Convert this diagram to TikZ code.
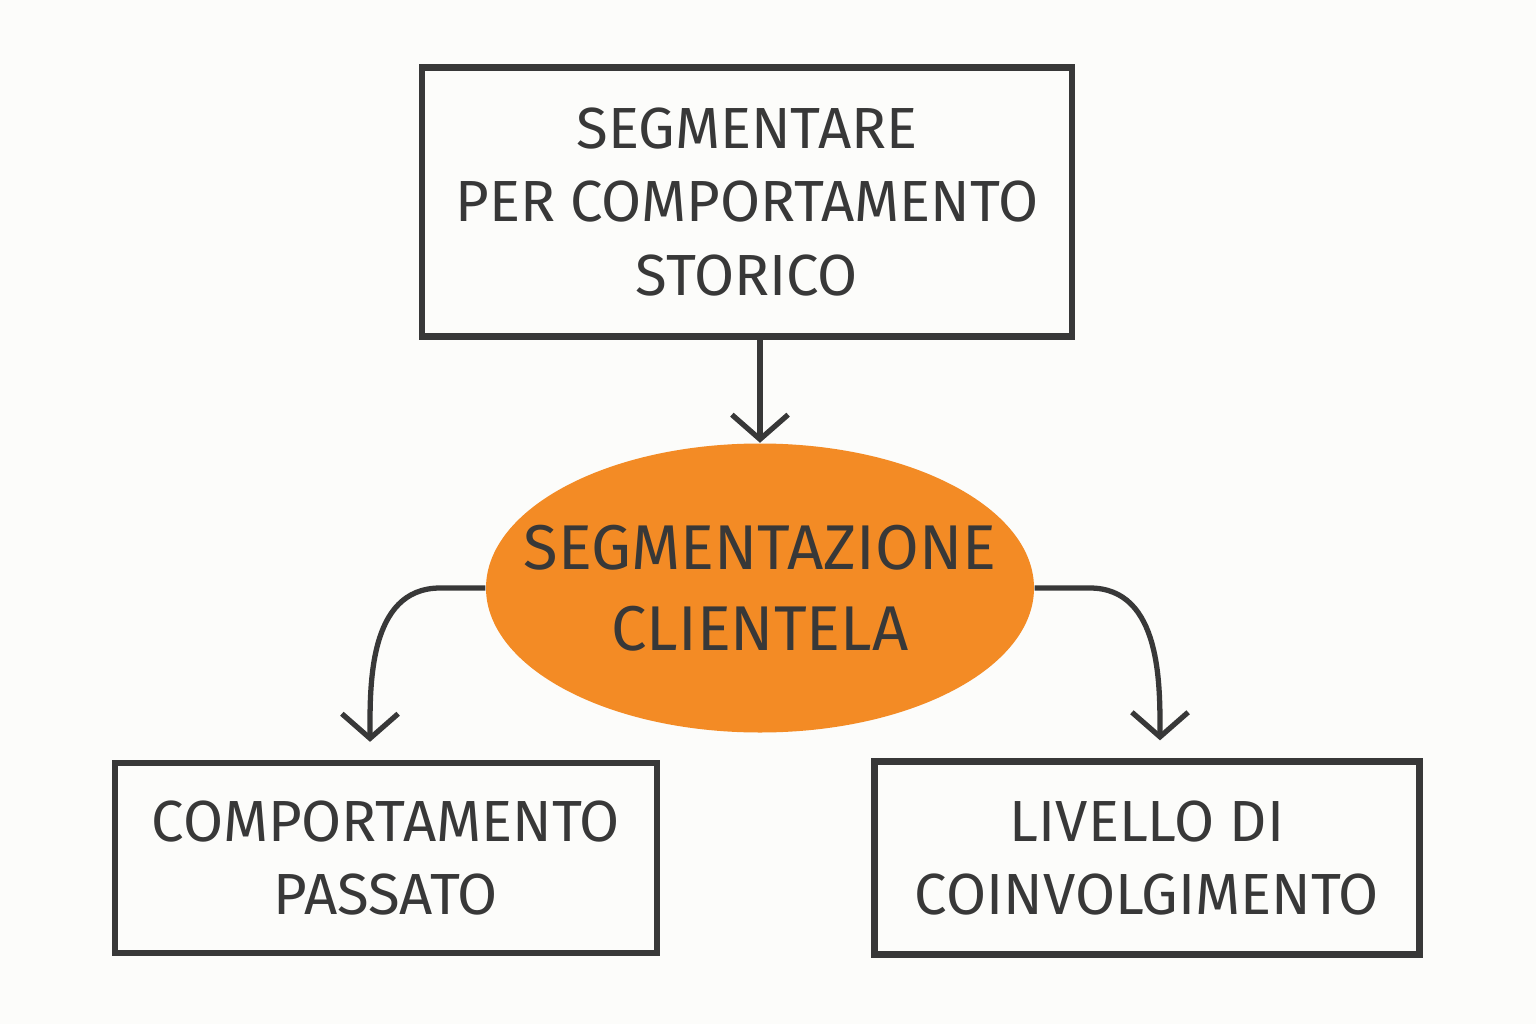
\documentclass[tikz,border=0pt]{standalone}
\usepackage{fontspec}
\setmainfont{Fira Sans}
\usetikzlibrary{arrows.meta, shapes.geometric}
\definecolor{pencil}{HTML}{383838}
\definecolor{segorange}{HTML}{F38B25}
\definecolor{paper}{HTML}{FCFCFA}

\begin{document}
\begin{tikzpicture}[
    x=1cm, y=1cm,
    >={Straight Barb[length=7pt, width=16pt, line width=1.5pt]},
    every node/.style={font=\fontsize{16.5}{21}\selectfont, text=pencil},
    box/.style={
        draw=pencil,
        line width=1.8pt,
        align=center,
        inner sep=0pt
    },
    arr/.style={->, line width=1.5pt, draw=pencil, shorten >=0.18cm}
]
    \useasboundingbox[fill=paper] (0,0) rectangle (15.36,10.24);

    % Top box
    \node[box, minimum width=6.50cm, minimum height=2.69cm] (top) at (7.47, 8.22) {SEGMENTARE\\PER COMPORTAMENTO\\STORICO};

    % Segmentation
    \node[ellipse, fill=segorange, minimum width=5.48cm, minimum height=2.89cm, inner sep=0pt] (seg) at (7.60, 4.36) {};
    \node[align=center, font=\fontsize{18}{23}\selectfont] (segtext) at (seg.center) {SEGMENTAZIONE\\CLIENTELA};

    % Bottom boxes
    \node[box, minimum width=5.42cm, minimum height=1.90cm] (past) at (3.86, 1.66) {COMPORTAMENTO\\PASSATO};
    \node[box, minimum width=5.45cm, minimum height=1.93cm] (level) at (11.47, 1.66) {LIVELLO DI\\COINVOLGIMENTO};

    % Arrows
    \draw[arr, shorten >=0pt] (top.south -| seg.north) -- (seg.north);
    \draw[arr] (seg.west) -- ++(-0.45, 0) to[out=180, in=90] ([xshift=-0.16cm]past.north);
    \draw[arr] (seg.east) -- ++(0.55, 0) to[out=0, in=90] ([xshift=0.13cm]level.north);

\end{tikzpicture}
\end{document}
